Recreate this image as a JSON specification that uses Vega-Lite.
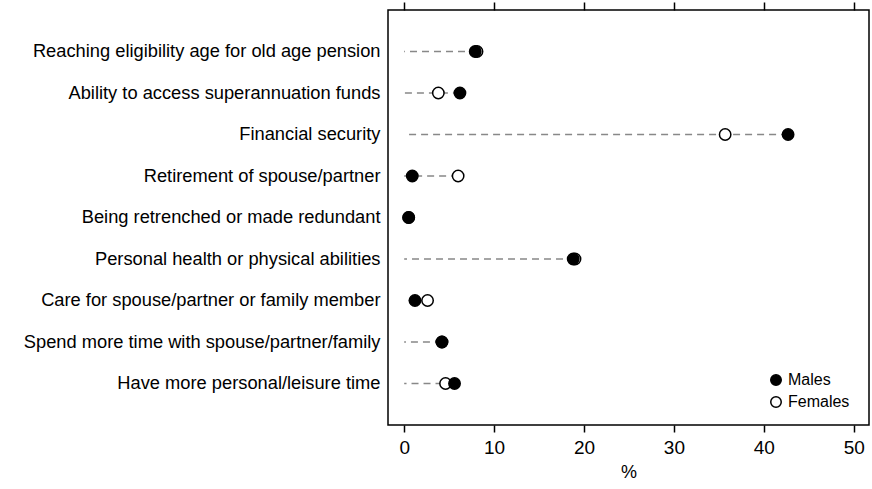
{
  "$schema": "https://vega.github.io/schema/vega-lite/v6.json",
  "width": 481,
  "height": 415,
  "autosize": {"type": "none"},
  "padding": {"left": 388, "top": 10, "right": 3, "bottom": 64},
  "background": "white",
  "config": {
    "font": "Liberation Sans",
    "view": {"stroke": "black", "strokeWidth": 1.5},
    "axis": {"grid": false, "labelColor": "black", "titleColor": "black", "tickColor": "black", "domain": false}
  },
  "data": {
    "values": [
      {"reason": "Reaching eligibility age for old age pension", "sex": "Females", "value": 8.1},
      {"reason": "Ability to access superannuation funds", "sex": "Females", "value": 3.8},
      {"reason": "Financial security", "sex": "Females", "value": 35.7},
      {"reason": "Retirement of spouse/partner", "sex": "Females", "value": 6.0},
      {"reason": "Being retrenched or made redundant", "sex": "Females", "value": 0.5},
      {"reason": "Personal health or physical abilities", "sex": "Females", "value": 19.0},
      {"reason": "Care for spouse/partner or family member", "sex": "Females", "value": 2.6},
      {"reason": "Spend more time with spouse/partner/family", "sex": "Females", "value": 4.2},
      {"reason": "Have more personal/leisure time", "sex": "Females", "value": 4.6},
      {"reason": "Reaching eligibility age for old age pension", "sex": "Males", "value": 7.9},
      {"reason": "Ability to access superannuation funds", "sex": "Males", "value": 6.2},
      {"reason": "Financial security", "sex": "Males", "value": 42.7},
      {"reason": "Retirement of spouse/partner", "sex": "Males", "value": 0.9},
      {"reason": "Being retrenched or made redundant", "sex": "Males", "value": 0.5},
      {"reason": "Personal health or physical abilities", "sex": "Males", "value": 18.8},
      {"reason": "Care for spouse/partner or family member", "sex": "Males", "value": 1.2},
      {"reason": "Spend more time with spouse/partner/family", "sex": "Males", "value": 4.2},
      {"reason": "Have more personal/leisure time", "sex": "Males", "value": 5.6}
    ]
  },
  "layer": [
    {
      "transform": [{"aggregate": [{"op": "max", "field": "value", "as": "maxv"}], "groupby": ["reason"]}],
      "mark": {"type": "rule", "color": "#888888", "strokeWidth": 1.5, "strokeDash": [7, 5]},
      "encoding": {
        "y": {
          "field": "reason",
          "type": "nominal",
          "sort": ["Reaching eligibility age for old age pension", "Ability to access superannuation funds", "Financial security", "Retirement of spouse/partner", "Being retrenched or made redundant", "Personal health or physical abilities", "Care for spouse/partner or family member", "Spend more time with spouse/partner/family", "Have more personal/leisure time"],
          "scale": {"type": "point", "padding": 1},
          "axis": {"title": null, "ticks": false, "labelFontSize": 18.3, "labelPadding": 8, "labelLimit": 400}
        },
        "x": {
          "field": "maxv",
          "type": "quantitative",
          "scale": {"domain": [-1.8, 51.7], "nice": false, "zero": false},
          "axis": {"orient": "top", "values": [0, 10, 20, 30, 40, 50], "labels": false, "tickSize": 8, "tickWidth": 1.5, "title": null}
        },
        "x2": {"datum": 0}
      }
    },
    {
      "mark": {"type": "point", "shape": "circle", "filled": true, "stroke": "black", "strokeWidth": 1.5, "size": 130, "opacity": 1},
      "encoding": {
        "y": {
          "field": "reason",
          "type": "nominal",
          "sort": ["Reaching eligibility age for old age pension", "Ability to access superannuation funds", "Financial security", "Retirement of spouse/partner", "Being retrenched or made redundant", "Personal health or physical abilities", "Care for spouse/partner or family member", "Spend more time with spouse/partner/family", "Have more personal/leisure time"]
        },
        "x": {
          "field": "value",
          "type": "quantitative",
          "axis": {"orient": "bottom", "values": [0, 10, 20, 30, 40, 50], "tickSize": 7, "tickWidth": 1.5, "labelFontSize": 19, "labelPadding": 6, "title": "%", "titleFontSize": 18, "titleFontWeight": "normal", "titlePadding": 6}
        },
        "fill": {
          "field": "sex",
          "type": "nominal",
          "scale": {"domain": ["Males", "Females"], "range": ["black", "white"]},
          "legend": {"title": null, "orient": "none", "legendX": 380, "legendY": 362, "symbolType": "circle", "symbolSize": 110, "symbolStrokeColor": "black", "symbolStrokeWidth": 1.5, "labelFontSize": 16, "labelColor": "black", "rowPadding": 4, "labelOffset": 4}
        }
      }
    }
  ],
  "resolve": {"axis": {"x": "independent"}}
}
